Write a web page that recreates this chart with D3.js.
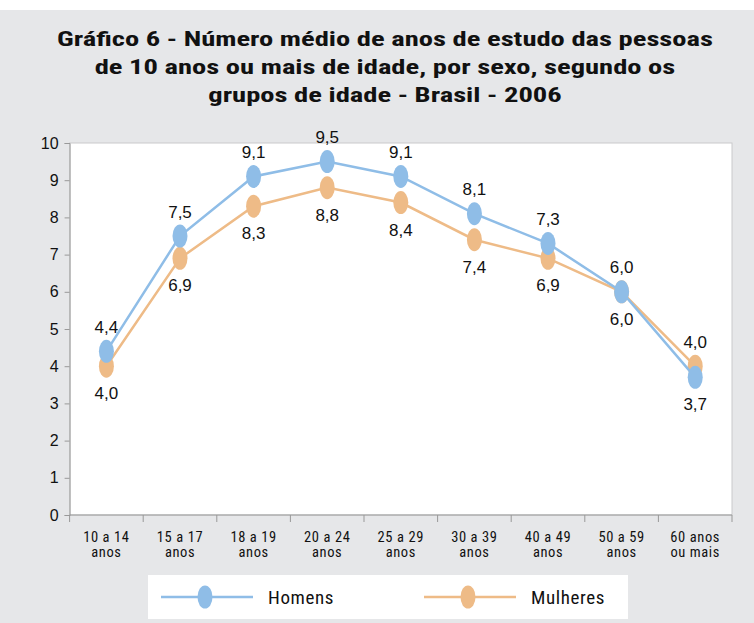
<!DOCTYPE html>
<html>
<head>
<meta charset="utf-8">
<script src="https://cdn.jsdelivr.net/npm/d3@7"></script>
<style>
  body { margin: 0; background: #fff; }
  svg { display: block; }
</style>
</head>
<body>
<div id="chart"></div>
<script>
// Chart data
var categories = [
    ["10 a 14", "anos"], ["15 a 17", "anos"], ["18 a 19", "anos"],
    ["20 a 24", "anos"], ["25 a 29", "anos"], ["30 a 39", "anos"],
    ["40 a 49", "anos"], ["50 a 59", "anos"], ["60 anos", "ou mais"]
];
var homens = [4.4, 7.5, 9.1, 9.5, 9.1, 8.1, 7.3, 6.0, 3.7];
var mulheres = [4.0, 6.9, 8.3, 8.8, 8.4, 7.4, 6.9, 6.0, 4.0];
// label position: 1 = above point, -1 = below
var homensLabelPos = [1, 1, 1, 1, 1, 1, 1, 1, -1];
var mulheresLabelPos = [-1, -1, -1, -1, -1, -1, -1, -1, 1];
var yTicks = [0, 1, 2, 3, 4, 5, 6, 7, 8, 9, 10];
var titleLines = [
    "Gráfico 6 - Número médio de anos de estudo das pessoas",
    "de 10 anos ou mais de idade, por sexo, segundo os",
    "grupos de idade - Brasil - 2006"
];

var svgWidth = 754;
var svgHeight = 623;
var blue = "#8fbde7";
var orange = "#eebb87";
var narrow = "'Roboto Condensed', 'Liberation Sans Narrow', sans-serif";
var plain = "'Liberation Sans', Arial, sans-serif";

var svg = d3.select("#chart")
    .append("svg")
    .attr("width", svgWidth)
    .attr("height", svgHeight);

// grey panel
svg.append("rect")
    .attr("x", 0).attr("y", 10)
    .attr("width", svgWidth).attr("height", svgHeight - 10)
    .attr("fill", "#e6e7e9");

// title
var title = svg.append("g").selectAll("text")
    .data(titleLines)
    .enter()
    .append("text")
    .attr("x", 385)
    .attr("y", (d, i) => 46 + i * 28)
    .attr("text-anchor", "middle")
    .style("font-family", narrow)
    .style("font-weight", "bold")
    .style("font-size", "21px")
    .attr("fill", "#111")
    .text(d => d);
// widen the glyphs a little so the first line is as wide as in the picture
var stretch = 656 / title.nodes()[0].getComputedTextLength();
title.each(function() {
    var w = this.getComputedTextLength();
    d3.select(this)
        .attr("textLength", (w * stretch).toFixed(1))
        .attr("lengthAdjust", "spacingAndGlyphs");
});

var plot = { left: 69.6, right: 732, top: 143, bottom: 515 };

// white plot area
svg.append("rect")
    .attr("x", plot.left).attr("y", plot.top)
    .attr("width", plot.right - plot.left).attr("height", plot.bottom - plot.top)
    .attr("fill", "#fff")
    .attr("stroke", "#c9cacc");

var x = d3.scaleBand()
    .domain(d3.range(categories.length))
    .range([plot.left, plot.right]);

var y = d3.scaleLinear()
    .domain([0, 10])
    .range([plot.bottom, plot.top]);

// y axis
var yAxis = svg.append("g")
    .attr("transform", `translate(${plot.left},0)`)
    .call(d3.axisLeft(y).tickValues(yTicks).tickSize(5).tickPadding(6));
yAxis.selectAll("text")
    .style("font-family", plain)
    .style("font-size", "16px")
    .attr("fill", "#111");
yAxis.selectAll("path, line").attr("stroke", "#999");

// x axis ticks on band edges
var xAxis = svg.append("g")
    .attr("transform", `translate(0,${plot.bottom})`);
xAxis.append("line")
    .attr("x1", plot.left).attr("x2", plot.right)
    .attr("stroke", "#999");
xAxis.selectAll(".tk")
    .data(d3.range(categories.length + 1))
    .enter()
    .append("line")
    .attr("x1", i => i < categories.length ? x(i) : plot.right)
    .attr("x2", i => i < categories.length ? x(i) : plot.right)
    .attr("y1", 0).attr("y2", 7)
    .attr("stroke", "#999");
var xLab = xAxis.selectAll(".lab")
    .data(categories)
    .enter()
    .append("text")
    .attr("text-anchor", "middle")
    .attr("transform", (d, i) => `translate(${x(i) + x.bandwidth() / 2},0)`)
    .style("font-family", narrow)
    .style("font-size", "14.5px")
    .style("letter-spacing", "0.6px")
    .attr("fill", "#111");
xLab.append("tspan").attr("x", 0).attr("y", 26.5).text(d => d[0]);
xLab.append("tspan").attr("x", 0).attr("y", 42).text(d => d[1]);

var line = d3.line()
    .x((d, i) => x(i) + x.bandwidth() / 2)
    .y(d => y(d));

function drawSeries(values, color) {
    var g = svg.append("g");
    g.append("path")
        .datum(values)
        .attr("d", line)
        .attr("fill", "none")
        .attr("stroke", color)
        .attr("stroke-width", 2.5);
    g.selectAll("ellipse")
        .data(values)
        .enter()
        .append("ellipse")
        .attr("cx", (d, i) => x(i) + x.bandwidth() / 2)
        .attr("cy", d => y(d))
        .attr("rx", 7.5)
        .attr("ry", 11.5)
        .attr("fill", color);
}

function drawLabels(values, labelPos) {
    svg.append("g").selectAll("text")
        .data(values)
        .enter()
        .append("text")
        .attr("x", (d, i) => x(i) + x.bandwidth() / 2)
        .attr("y", (d, i) => y(d) + (labelPos[i] > 0 ? -18.5 : 33))
        .attr("text-anchor", "middle")
        .style("font-family", plain)
        .style("font-size", "17px")
        .attr("fill", "#111")
        .text(d => d3.format(".1f")(d).replace(".", ","));
}

drawSeries(mulheres, orange);
drawSeries(homens, blue);
drawLabels(mulheres, mulheresLabelPos);
drawLabels(homens, homensLabelPos);

// legend
var legend = svg.append("g");
legend.append("rect")
    .attr("x", 148).attr("y", 575)
    .attr("width", 480).attr("height", 44)
    .attr("fill", "#fff");
var legendItems = [
    { name: "Homens", color: blue, x: 161 },
    { name: "Mulheres", color: orange, x: 424 }
];
legendItems.forEach(function(item) {
    legend.append("line")
        .attr("x1", item.x).attr("x2", item.x + 92)
        .attr("y1", 597).attr("y2", 597)
        .attr("stroke", item.color)
        .attr("stroke-width", 2.5);
    legend.append("ellipse")
        .attr("cx", item.x + 44).attr("cy", 597)
        .attr("rx", 7.5).attr("ry", 11.5)
        .attr("fill", item.color);
    legend.append("text")
        .attr("x", item.x + 107).attr("y", 603.5)
        .style("font-family", narrow)
        .style("font-size", "19px")
        .style("letter-spacing", "0.6px")
        .attr("fill", "#111")
        .text(item.name);
});
</script>
</body>
</html>
